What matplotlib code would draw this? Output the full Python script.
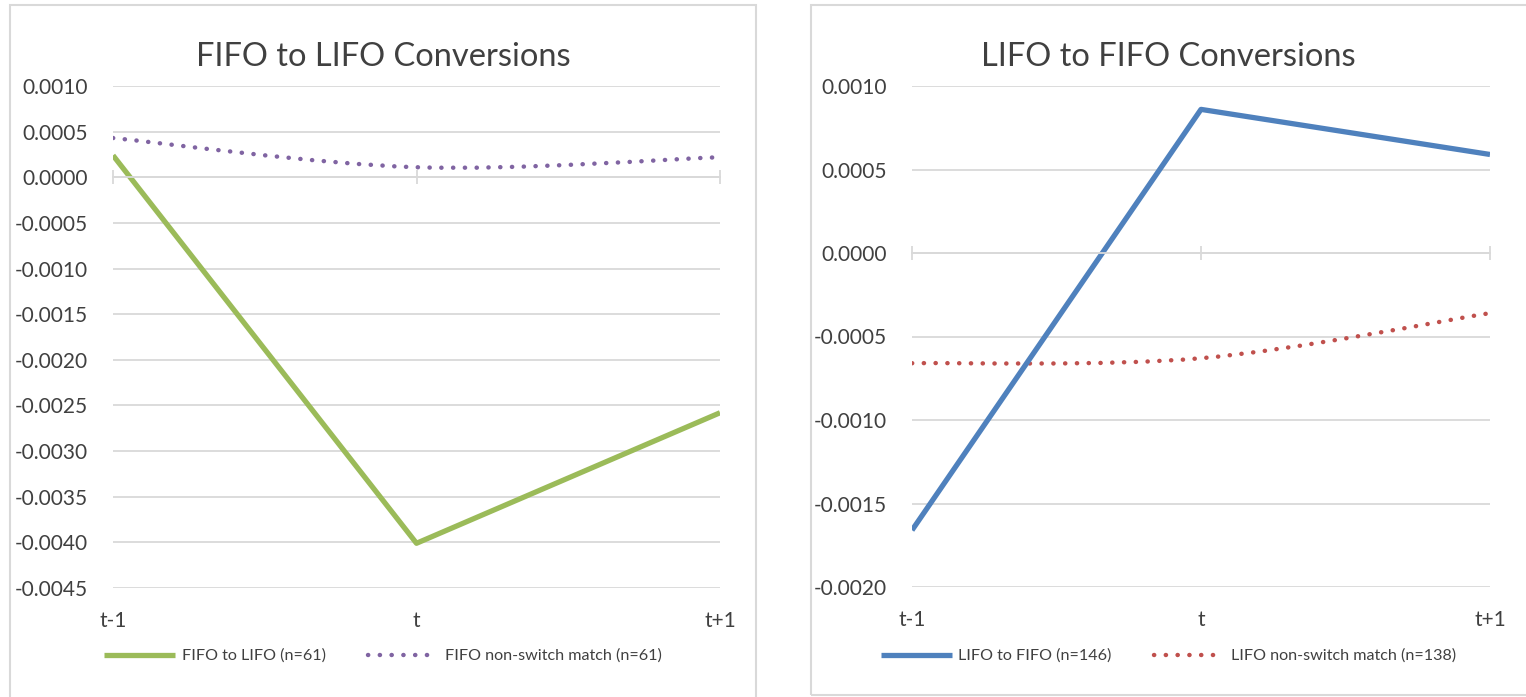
import numpy as np
import matplotlib
matplotlib.use("Agg")
import matplotlib.pyplot as plt
from matplotlib.path import Path
from matplotlib.patches import PathPatch, Rectangle

plt.rcParams['font.family'] = ['Lato', 'DejaVu Sans']

# data
periods = ["t-1", "t", "t+1"]

fifo_to_lifo = [0.00024, -0.00401, -0.00258]
fifo_match = [0.00043, 0.00011, 0.00022]

lifo_to_fifo = [-0.00166, 0.00086, 0.00059]
lifo_match = [-0.00066, -0.00063, -0.00036]

left_ticks = [0.0010, 0.0005, 0.0, -0.0005, -0.0010, -0.0015, -0.0020,
              -0.0025, -0.0030, -0.0035, -0.0040, -0.0045]
right_ticks = [0.0010, 0.0005, 0.0, -0.0005, -0.0010, -0.0015, -0.0020]

GREEN = "#9BBB59"
PURPLE = "#8064A2"
BLUE = "#4F81BD"
RED = "#C0504D"
GRID = "#D9D9D9"
TEXT = "#404040"

W, H = 1526, 697


def smooth_path(xs, ys):
    # catmull-rom style bezier through the points (like a "smoothed line")
    pts = np.column_stack([xs, ys]).astype(float)
    ext = np.vstack([pts[0], pts, pts[-1]])
    verts = [pts[0]]
    codes = [Path.MOVETO]
    for i in range(len(pts) - 1):
        p0, p1, p2, p3 = ext[i], ext[i + 1], ext[i + 2], ext[i + 3]
        c1 = p1 + (p2 - p0) / 6.0
        c2 = p2 - (p3 - p1) / 6.0
        verts += [c1, c2, p2]
        codes += [Path.CURVE4] * 3
    return Path(verts, codes)


def setup_axes(ax, ticks, ylim):
    x = np.arange(len(periods))
    ax.set_xlim(x[0], x[-1])
    ax.set_ylim(*ylim)
    for s in ["top", "right", "left"]:
        ax.spines[s].set_visible(False)
    ax.spines["bottom"].set_position(("data", 0))
    ax.spines["bottom"].set_color(GRID)
    ax.spines["bottom"].set_linewidth(1.3)
    ax.set_xticks(x)
    ax.set_xticklabels([])
    ax.tick_params(axis="x", direction="inout", length=10, width=1.3, color=GRID)
    ax.set_yticks(ticks)
    ax.set_yticklabels([f"{t:.4f}" for t in ticks], fontsize=15, color=TEXT)
    ax.tick_params(axis="y", length=0, pad=18)
    ax.grid(axis="y", color=GRID, linewidth=1.3)
    ax.set_axisbelow(True)
    for xi, lab in zip(x, periods):
        ax.text(xi, -0.045, lab, transform=ax.get_xaxis_transform(),
                ha="center", va="top", fontsize=15, color=TEXT)


def dotted_curve(ax, ys, color, label):
    x = np.arange(len(ys))
    patch = PathPatch(smooth_path(x, ys), fill=False, edgecolor=color,
                      linewidth=3.2, linestyle=(0, (0.05, 2.6)),
                      capstyle="round")
    ax.add_patch(patch)
    # proxy for the legend
    return ax.plot([], [], color=color, linewidth=3.2,
                   linestyle=(0, (0.05, 2.6)), dash_capstyle="round",
                   label=label)[0]


def panel_legend(handles, cx):
    fig.legend(handles=handles, loc="center", bbox_to_anchor=(cx, 1 - 656 / H),
               ncol=2, frameon=False, fontsize=11.6, handlelength=4.4,
               handletextpad=0.4, columnspacing=2.6, labelcolor=TEXT)


fig = plt.figure(figsize=(W / 100, H / 100), dpi=100)

# panel frames
fig.patches.append(Rectangle((10 / W, -0.01), (756 - 10) / W, 1 - 5 / H + 0.01,
                             transform=fig.transFigure, fill=False,
                             edgecolor=GRID, linewidth=1.5))
fig.patches.append(Rectangle((811 / W, 1 - 695 / H), (W - 811 + 10) / W,
                             (695 - 5) / H, transform=fig.transFigure,
                             fill=False, edgecolor=GRID, linewidth=1.5))
left_cx = (10 + 756) / 2 / W
right_cx = (811 + W) / 2 / W

# left chart
ax1 = fig.add_axes([113 / W, 1 - 588 / H, (720 - 113) / W, (588 - 86) / H])
setup_axes(ax1, left_ticks, (-0.0045, 0.0010))
fig.text(left_cx, 1 - 57 / H, "FIFO to LIFO Conversions", ha="center",
         va="center", fontsize=23.5, color=TEXT)
l1, = ax1.plot(np.arange(3), fifo_to_lifo, color=GREEN, linewidth=3.8,
               solid_capstyle="butt", label="FIFO to LIFO (n=61)")
l2 = dotted_curve(ax1, fifo_match, PURPLE, "FIFO non-switch match (n=61)")
panel_legend([l1, l2], left_cx)

# right chart
ax2 = fig.add_axes([912 / W, 1 - 587 / H, (1490 - 912) / W, (587 - 86) / H])
setup_axes(ax2, right_ticks, (-0.0020, 0.0010))
fig.text(right_cx, 1 - 57 / H, "LIFO to FIFO Conversions", ha="center",
         va="center", fontsize=23.5, color=TEXT)
r1, = ax2.plot(np.arange(3), lifo_to_fifo, color=BLUE, linewidth=3.8,
               solid_capstyle="butt", label="LIFO to FIFO (n=146)")
r2 = dotted_curve(ax2, lifo_match, RED, "LIFO non-switch match (n=138)")
panel_legend([r1, r2], right_cx)

fig.savefig("out.png", dpi=100)
